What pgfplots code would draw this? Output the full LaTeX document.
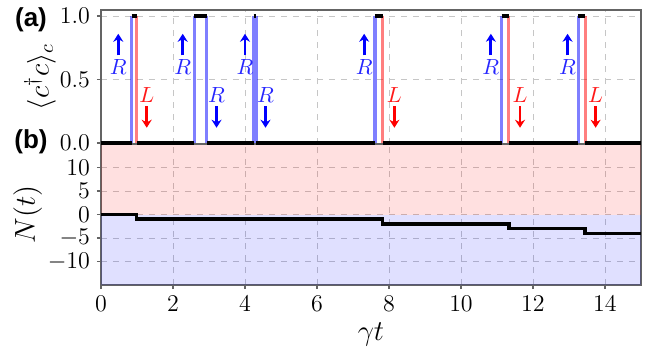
\documentclass[border=0pt]{standalone}
\usepackage{fontspec}
\usepackage{pgfplots}
\pgfplotsset{compat=1.18}
\usetikzlibrary{arrows.meta}
\newfontfamily\labelfont{Liberation Sans}
\definecolor{framegray}{RGB}{100,100,100}
\newcommand{\uparr}[1]{%
  \draw[blue, line width=1.4pt, -{Stealth[length=4pt,width=5pt]}] (axis cs:#1,0.69) -- (axis cs:#1,0.86);
  \node[text=blue!85, font=\fontsize{10.5}{10.5}\selectfont] at (axis cs:#1,0.60) {$R$};}
\newcommand{\downR}[1]{%
  \draw[blue, line width=1.4pt, -{Stealth[length=4pt,width=5pt]}] (axis cs:#1,0.29) -- (axis cs:#1,0.12);
  \node[text=blue!85, font=\fontsize{10.5}{10.5}\selectfont] at (axis cs:#1,0.38) {$R$};}
\newcommand{\downL}[1]{%
  \draw[red, line width=1.4pt, -{Stealth[length=4pt,width=5pt]}] (axis cs:#1,0.29) -- (axis cs:#1,0.12);
  \node[text=red!90, font=\fontsize{10.5}{10.5}\selectfont] at (axis cs:#1,0.38) {$L$};}
\begin{document}
\begin{tikzpicture}
\pgfplotsset{
  myaxis/.style={
    scale only axis, width=270pt, xmin=0, xmax=15, xtick={0,2,...,14},
    grid=major, grid style={dashed, gray!45, line width=0.4pt},
    axis line style={framegray, line width=0.7pt},
    tick style={framegray, line width=0.6pt},
    tick align=outside, major tick length=2pt,
    xtick pos=bottom, ytick pos=left,
    ticklabel style={font=\fontsize{13}{13}\selectfont},
    label style={font=\fontsize{14}{14}\selectfont},
  }
}
\begin{axis}[myaxis, name=b, height=70.5pt, ymin=-15, ymax=15, ytick={-10,-5,0,5,10},
  xlabel={$\gamma t$}, ylabel={$N(t)$},
  xlabel style={at={(axis description cs:0.5,-0.3475)}, anchor=center},
  ylabel style={at={(axis description cs:-0.136,0.5)}, anchor=center},
]
\addplot[draw=none, fill=red, fill opacity=0.12] coordinates {(0,0)(15,0)(15,15)(0,15)} -- cycle;
\addplot[draw=none, fill=blue, fill opacity=0.12] coordinates {(0,0)(15,0)(15,-15)(0,-15)} -- cycle;
\addplot[black, line width=1.8pt, const plot] coordinates {(0,0)(0.99,-1)(7.82,-2)(11.33,-3)(13.45,-4)(15,-4)};
\end{axis}
\begin{axis}[myaxis, name=t, at={([yshift=3pt]b.north west)}, anchor=south west,
  height=67pt, ymin=-0.008, ymax=1.047, ytick={0,0.5,1},
  yticklabel style={/pgf/number format/.cd, fixed, fixed zerofill, precision=1},
  xticklabels={}, xtick style={draw=none}, clip=false,
  ylabel={$\langle c^\dagger c\rangle_c$},
  ylabel style={at={(axis description cs:-0.113,0.5)}, anchor=center},
]
% vertical jumps
\addplot[blue, opacity=0.5, line width=1.6pt] coordinates {(0.85,0)(0.85,1)};
\addplot[red, opacity=0.5, line width=1.6pt] coordinates {(0.99,0)(0.99,1)};
\addplot[blue, opacity=0.5, line width=1.6pt] coordinates {(2.59,0)(2.59,1)};
\addplot[blue, opacity=0.5, line width=1.6pt] coordinates {(2.94,0)(2.94,1)};
\addplot[blue, opacity=0.5, line width=1.6pt] coordinates {(4.24,0)(4.24,1)};
\addplot[blue, opacity=0.5, line width=1.6pt] coordinates {(4.31,0)(4.31,1)};
\addplot[blue, opacity=0.5, line width=1.6pt] coordinates {(7.61,0)(7.61,1)};
\addplot[red, opacity=0.5, line width=1.6pt] coordinates {(7.82,0)(7.82,1)};
\addplot[blue, opacity=0.5, line width=1.6pt] coordinates {(11.13,0)(11.13,1)};
\addplot[red, opacity=0.5, line width=1.6pt] coordinates {(11.33,0)(11.33,1)};
\addplot[blue, opacity=0.5, line width=1.6pt] coordinates {(13.26,0)(13.26,1)};
\addplot[red, opacity=0.5, line width=1.6pt] coordinates {(13.45,0)(13.45,1)};
% occupation segments
\addplot[black, line width=1.8pt] coordinates {(0,0)(0.85,0)};
\addplot[black, line width=1.8pt] coordinates {(0.99,0)(2.59,0)};
\addplot[black, line width=1.8pt] coordinates {(2.94,0)(4.24,0)};
\addplot[black, line width=1.8pt] coordinates {(4.31,0)(7.61,0)};
\addplot[black, line width=1.8pt] coordinates {(7.82,0)(11.13,0)};
\addplot[black, line width=1.8pt] coordinates {(11.33,0)(13.26,0)};
\addplot[black, line width=1.8pt] coordinates {(13.45,0)(15,0)};
\addplot[black, line width=1.8pt] coordinates {(0.85,1)(0.99,1)};
\addplot[black, line width=1.8pt] coordinates {(2.59,1)(2.94,1)};
\addplot[black, line width=1.8pt] coordinates {(4.24,1)(4.31,1)};
\addplot[black, line width=1.8pt] coordinates {(7.61,1)(7.82,1)};
\addplot[black, line width=1.8pt] coordinates {(11.13,1)(11.33,1)};
\addplot[black, line width=1.8pt] coordinates {(13.26,1)(13.45,1)};
% annotations
\uparr{0.48}\downL{1.27}
\uparr{2.27}\downR{3.21}
\uparr{4.00}\downR{4.57}
\uparr{7.31}\downL{8.15}
\uparr{10.83}\downL{11.64}
\uparr{12.96}\downL{13.74}
\end{axis}
\node[font=\labelfont\bfseries\fontsize{13}{13}\selectfont, anchor=center] at ([xshift=-35pt,yshift=-4.75pt]t.north west) {(a)};
\node[font=\labelfont\bfseries\fontsize{13}{13}\selectfont, anchor=center] at ([xshift=-35pt,yshift=1.25pt]b.north west) {(b)};
\pgfresetboundingbox
\path[use as bounding box] ([xshift=-50.5pt,yshift=-35.5pt]b.south west) rectangle ([xshift=6.5pt,yshift=5pt]t.north east);
\end{tikzpicture}
\end{document}
